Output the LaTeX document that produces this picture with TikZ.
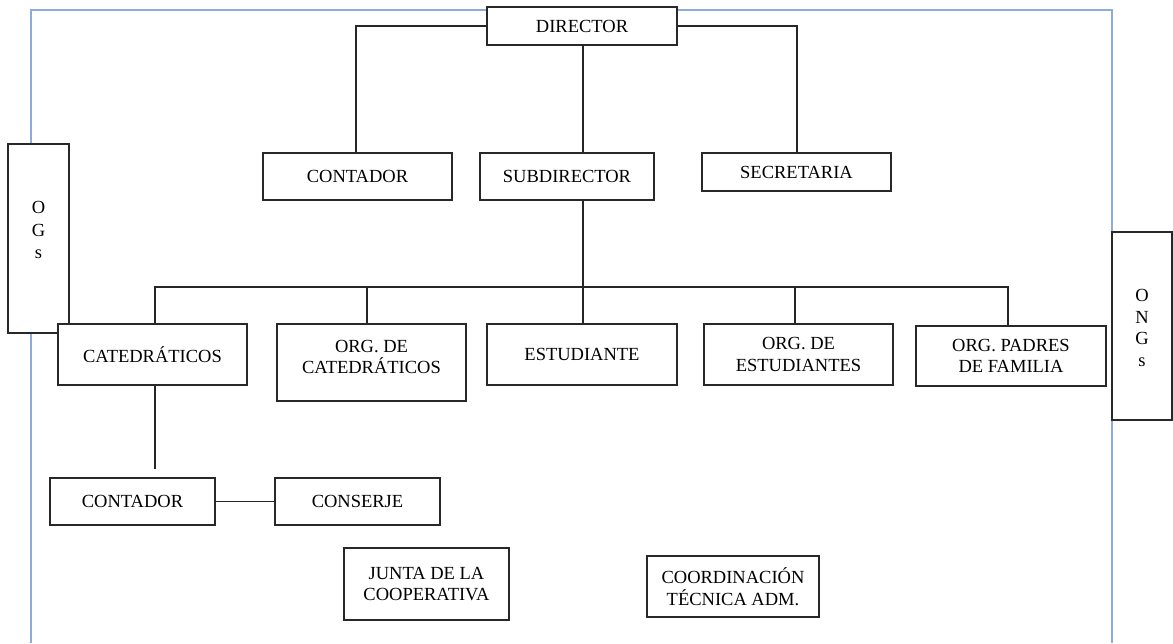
\documentclass[tikz,border=0pt]{standalone}
\usepackage{fontspec}
\setmainfont{Liberation Serif}
\definecolor{frameblue}{RGB}{143,170,220}
\definecolor{boxline}{RGB}{40,40,40}
\begin{document}
\begin{tikzpicture}[x=1pt,y=-1pt,
  box/.style={draw=boxline,line width=1.1pt,fill=white,inner sep=0pt,align=center,
    font=\fontsize{18.5}{21.5}\selectfont},
  conn/.style={draw=black!85,line width=1.1pt},
  frame/.style={draw=frameblue,line width=1.6pt}]
\useasboundingbox (0,0) rectangle (1173,643);
% blue frame
\draw[frame] (31,643) -- (31,10) -- (1112,10) -- (1112,643);
% side boxes
\node[box,minimum width=61pt,minimum height=189pt] (ogs) at (38.5,238.5) {};
\node[font=\fontsize{18.5}{22.5}\selectfont,align=center,inner sep=0pt] (ogst) at (38.5,230) {O\\G\\s};
\node[box,minimum width=60pt,minimum height=188pt] (ongs) at (1142,326) {};
\node[font=\fontsize{18.5}{21.5}\selectfont,align=center,inner sep=0pt] (ongst) at (1142,328) {O\\N\\G\\s};
% top level
\node[box,minimum width=190pt,minimum height=38pt] (dir) at (582,26) {DIRECTOR};
\node[box,minimum width=189pt,minimum height=47pt] (cont) at (357.5,176.5) {CONTADOR};
\node[box,minimum width=174pt,minimum height=47pt] (sub) at (567,176.5) {SUBDIRECTOR};
\node[box,minimum width=189pt,minimum height=38pt] (sec) at (796.5,172) {SECRETARIA};
% second level
\node[box,minimum width=189pt,minimum height=61pt] (cat) at (152.5,354.5) {CATEDRÁTICOS};
\node[box,minimum width=189pt,minimum height=77pt] (orgcat) at (371.5,362.5) {ORG. DE\\CATEDRÁTICOS\\[-10pt]};
\node[box,minimum width=190pt,minimum height=61pt] (est) at (582,354.5) {ESTUDIANTE};
\node[box,minimum width=189pt,minimum height=61pt] (orgest) at (798.5,354.5) {ORG. DE\\ESTUDIANTES};
\node[box,minimum width=190pt,minimum height=60pt] (pad) at (1011,356) {ORG. PADRES\\DE FAMILIA};
% bottom
\node[box,minimum width=165pt,minimum height=47pt] (cont2) at (132.5,501.5) {CONTADOR};
\node[box,minimum width=165pt,minimum height=47pt] (cons) at (357.5,501.5) {CONSERJE};
\node[box,minimum width=165pt,minimum height=72pt] (junta) at (426.5,584) {JUNTA DE LA\\COOPERATIVA};
\node[box,minimum width=172pt,minimum height=61pt] (coord) at (733,586.5) {COORDINACIÓN\\TÉCNICA ADM.};
% connectors
\coordinate (dl) at (356,26);
\coordinate (dr) at (797,26);
\coordinate (bus) at (583,287);
\coordinate (catend) at (155,469);
\draw[conn] (dir.west |- dl) -- (dl) -- (dl |- cont.north);
\draw[conn] (dir.east |- dr) -- (dr) -- (dr |- sec.north);
\draw[conn] (bus |- dir.south) -- (bus |- sub.north);
\draw[conn] (bus |- sub.south) -- (bus);
\draw[conn] (catend |- cat.north) -- (catend |- bus) -- (1008,287) -- (1008,0 |- pad.north);
\draw[conn] (367,0 |- orgcat.north) -- (367,287);
\draw[conn] (bus |- est.north) -- (bus);
\draw[conn] (795,0 |- orgest.north) -- (795,287);
\draw[conn] (catend |- cat.south) -- (catend);
\draw[conn] (cont2.east) -- (cons.west);
\end{tikzpicture}
\end{document}
